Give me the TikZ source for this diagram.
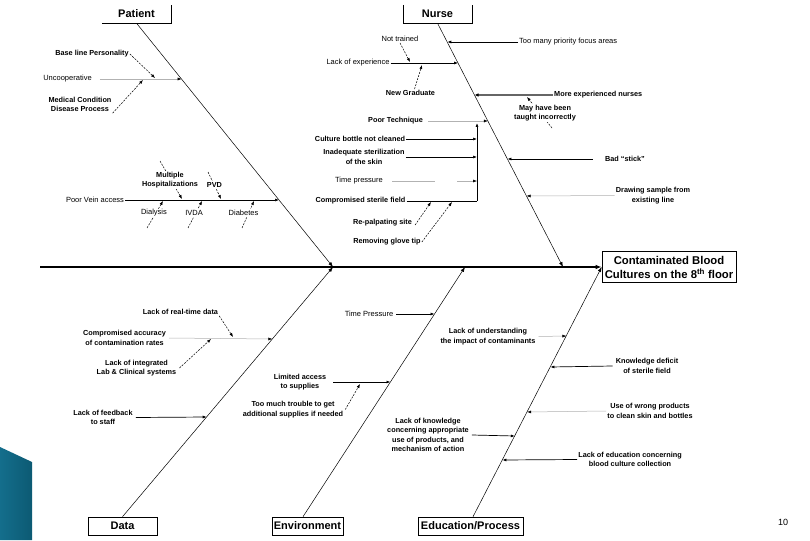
\documentclass[tikz,border=0pt]{standalone}
\usepackage{fontspec}
\setmainfont{Liberation Sans}
\usetikzlibrary{arrows.meta,calc}
\begin{document}
\begin{tikzpicture}[x=1pt,y=-1pt,
  lbl/.style={font=\fontsize{7.3}{9.5}\selectfont\bfseries, align=center, inner sep=1pt},
  lblr/.style={font=\fontsize{7.5}{9.5}\selectfont, align=center, inner sep=1pt},
  wlbl/.style={lbl, fill=white},
  wlblr/.style={lblr, fill=white},
  catbox/.style={font=\fontsize{11}{13}\selectfont\bfseries, minimum height=18pt, inner sep=1pt},
  bone/.style={line width=0.5pt, -{Latex[length=5pt,width=3.5pt]}},
  sa/.style={line width=0.7pt, -{Latex[length=4pt,width=3pt]}},
  la/.style={line width=0.5pt, gray!60, -{Latex[length=4pt,width=3pt,color=black]}},
  da/.style={line width=0.5pt, dash pattern=on 2pt off 1.2pt, -{Latex[length=4pt,width=3pt]}},
]
\path[use as bounding box] (0,0) rectangle (810,540);
\clip (0,0) rectangle (810,540);
\fill[white] (0,0) rectangle (810,540);

% slide decoration
\shade[left color={rgb,255:red,20;green,110;blue,140}, right color={rgb,255:red,12;green,90;blue,115}]
  (0,447) -- (32,462) -- (32,540) -- (0,540) -- cycle;
\node[font=\fontsize{9}{11}\selectfont, inner sep=0pt] (pgnum) at (783,522) {10};

% effect box and spine
\node[draw, line width=0.6pt, font=\fontsize{11.3}{14}\selectfont\bfseries, align=center,
  minimum width=134pt, minimum height=31pt, inner sep=1pt] (effect) at (669,267)
  {Contaminated Blood\\Cultures on the 8\textsuperscript{th} floor};
\coordinate (tail) at (40,267);
\draw[line width=1.2pt, -{Latex[length=6pt,width=4.5pt]}] (tail) -- (effect.west);

% category boxes
\node[catbox, minimum width=69pt] (patient) at (136.5,14) {Patient};
\draw[line width=0.6pt] (patient.south west) -- (patient.south east) -- (patient.north east);
\node[catbox, minimum width=69pt] (nurse) at (437.5,14) {Nurse};
\draw[line width=0.6pt] (nurse.north west) -- (nurse.south west) -- (nurse.south east) -- (nurse.north east);
\node[catbox, draw, line width=0.6pt, minimum width=69pt] (data) at (122.5,526) {Data};
\node[catbox, draw, line width=0.6pt, minimum width=71pt] (env) at (307.5,526) {Environment};
\node[catbox, draw, line width=0.6pt, minimum width=105pt] (edu) at (470.5,526) {Education/Process};

% bone junctions
\coordinate (pj) at (333,267);
\coordinate (nj) at (563,267);
\coordinate (dj) at (333,267);
\coordinate (ej) at (465,267);
\draw[bone] (patient.south) -- (pj);
\draw[bone] (nurse.south) -- (nj);
\draw[bone] (data.north) -- (dj);
\draw[bone] ([xshift=-4.5pt]env.north) -- (ej);
\draw[bone] ([xshift=2.5pt]edu.north) -- (effect.west);

% ---------------- Patient ----------------
\node[lbl] (pbase) at (92,54) {Base line Personality};
\coordinate (pbase-t) at (155,78);
\draw[da] (pbase.east) -- (pbase-t);
\node[lblr] (punc) at (67.5,79) {Uncooperative};
\coordinate (punc-t) at (181.6,79);
\draw[la] ([xshift=7pt]punc.east) -- (punc-t);
\node[lbl] (pmed) at (80,104.5) {Medical Condition\\Disease Process};
\coordinate (pmed-t) at (143,80);
\draw[da] (pmed.south east) -- (pmed-t);

\node[lblr] (pvein) at (95,200) {Poor Vein access};
\coordinate (pvein-t) at (279,200);
\draw[sa] (pvein.east) -- (pvein-t);

\coordinate (pmult-s) at (160,161);
\coordinate (pmult-t) at (182,199);
\draw[da] (pmult-s) -- (pmult-t);
\node[wlbl] (pmult) at (170,180) {Multiple\\Hospitalizations};
\coordinate (ppvd-s) at (208,172);
\coordinate (ppvd-t) at (221,199);
\draw[da] (ppvd-s) -- (ppvd-t);
\node[wlbl] (ppvd) at (214.5,185) {PVD};
\coordinate (pdial-s) at (147,228);
\coordinate (pdial-t) at (163,201);
\draw[da] (pdial-s) -- (pdial-t);
\node[wlblr] (pdial) at (154,213) {Dialysis};
\coordinate (pivda-s) at (188,228);
\coordinate (pivda-t) at (202,201);
\draw[da] (pivda-s) -- (pivda-t);
\node[wlblr] (pivda) at (194,213) {IVDA};
\coordinate (pdiab-s) at (242,228);
\coordinate (pdiab-t) at (254,201);
\draw[da] (pdiab-s) -- (pdiab-t);
\node[wlblr] (pdiab) at (243.5,213) {Diabetes};

% ---------------- Nurse ----------------
\node[lblr] (nnot) at (400,39) {Not trained};
\coordinate (nnot-t) at (410,62);
\draw[da] (nnot.south) -- (nnot-t);
\node[lblr] (nexp) at (358,63) {Lack of experience};
\coordinate (nexp-t) at (458.1,63);
\draw[sa] (nexp.east) -- (nexp-t);
\node[lbl] (nnew) at (410.5,93) {New Graduate};
\coordinate (nnew-t) at (422,65);
\draw[da] ([xshift=4pt]nnew.north) -- (nnew-t);
\node[lblr, anchor=west] (ntoo) at (518,42) {Too many priority focus areas};
\coordinate (ntoo-t) at (447.3,42);
\draw[sa] (ntoo.west) -- (ntoo-t);
\node[lbl, anchor=west] (nmore) at (553,95) {More experienced nurses};
\coordinate (nmore-t) at (474.5,95);
\draw[line width=1.3pt, gray!80!black, -{Latex[length=4pt,width=3.5pt,color=black]}] (nmore.west) -- (nmore-t);
\coordinate (nmay-s) at (552,128);
\coordinate (nmay-t) at (527,97);
\draw[da] (nmay-s) -- (nmay-t);
\node[wlbl] (nmay) at (545,113) {May have been\\taught incorrectly};

\node[lbl] (npoor) at (395.5,121) {Poor Technique};
\coordinate (npoor-t) at (487.9,121);
\draw[la] ([xshift=4pt]npoor.east) -- (npoor-t);
\coordinate (nbr-b) at (477,201);
\coordinate (nbr-t) at (477,123);
\draw[sa] (nbr-b) -- (nbr-t);
\node[lbl] (ncult) at (360,139) {Culture bottle not cleaned};
\coordinate (ncult-t) at (477,139);
\draw[sa] (ncult.east) -- (ncult-t);
\node[lbl] (ninad) at (364,157) {Inadequate sterilization\\of the skin};
\coordinate (ninad-t) at (477,157);
\draw[sa] (ninad.east) -- (ninad-t);
\node[lblr] (ntime) at (359,181) {Time pressure};
\coordinate (ntime-m) at (435,181);
\coordinate (ntime-n) at (457,181);
\coordinate (ntime-t) at (477,181);
\draw[line width=0.5pt, gray!60] ([xshift=8pt]ntime.east) -- (ntime-m);
\draw[la] (ntime-n) -- (ntime-t);
\node[lbl] (ncomp) at (360.5,201) {Compromised sterile field};
\draw[line width=0.7pt] (ncomp.east) -- (nbr-b);
\node[lbl] (nrep) at (382.5,223) {Re-palpating site};
\coordinate (nrep-t) at (431,202);
\draw[da] ([xshift=2pt,yshift=-2pt]nrep.east) -- (nrep-t);
\node[lbl] (nrem) at (387,242) {Removing glove tip};
\coordinate (nrem-t) at (452,202);
\draw[da] (nrem.east) -- (nrem-t);

\node[lbl] (nbad) at (625,159) {Bad \textquotedblleft stick\textquotedblright};
\coordinate (nbad-t) at (507.4,159);
\draw[sa] ([xshift=-11pt]nbad.west) -- (nbad-t);
\node[lbl] (ndraw) at (653,195.5) {Drawing sample from\\existing line};
\coordinate (ndraw-t) at (526.5,196);
\draw[la] (ndraw.west) -- (ndraw-t);

% ---------------- Data ----------------
\node[lbl] (dreal) at (180.5,312) {Lack of real-time data};
\coordinate (dreal-t) at (233,337);
\draw[da] (dreal.south east) -- (dreal-t);
\node[lbl] (dcomp) at (124.5,338) {Compromised accuracy\\of contamination rates};
\coordinate (dcomp-t) at (272.4,339);
\draw[la] ([xshift=2pt]dcomp.east) -- (dcomp-t);
\node[lbl] (dint) at (136.5,368) {Lack of integrated\\Lab \& Clinical systems};
\coordinate (dint-t) at (211,339);
\draw[da] ([xshift=2pt]dint.east) -- (dint-t);
\node[lbl] (dfeed) at (103,417.5) {Lack of feedback\\to staff};
\coordinate (dfeed-t) at (206.7,417);
\draw[sa] ([xshift=2pt]dfeed.east) -- (dfeed-t);

% ---------------- Environment ----------------
\node[lblr] (etime) at (369,314) {Time Pressure};
\coordinate (etime-t) at (434.5,314);
\draw[sa] ([xshift=2pt]etime.east) -- (etime-t);
\node[lbl] (elim) at (300,382) {Limited access\\to supplies};
\coordinate (elim-t) at (390.5,382);
\draw[line width=1pt, -{Latex[length=4pt,width=3pt]}] ([xshift=6pt]elim.east) -- (elim-t);
\node[lbl] (etoo) at (293,409.5) {Too much trouble to get\\additional supplies if needed};
\coordinate (etoo-t) at (360,384);
\draw[da] ([xshift=1pt]etoo.east) -- (etoo-t);

% ---------------- Education/Process ----------------
\node[lbl] (uund) at (488,336.5) {Lack of understanding\\the impact of contaminants};
\coordinate (uund-t) at (566.4,336);
\draw[la] ([xshift=2pt]uund.east) -- (uund-t);
\node[lbl] (ukno) at (647,366) {Knowledge deficit\\of sterile field};
\coordinate (ukno-t) at (550.4,367);
\draw[sa] ([xshift=-2pt]ukno.west) -- (ukno-t);
\node[lbl] (uuse) at (650,411) {Use of wrong products\\to clean skin and bottles};
\coordinate (uuse-t) at (527.2,412);
\draw[la] (uuse.west) -- (uuse-t);
\node[lbl, font=\fontsize{7.3}{9.3}\selectfont\bfseries] (ulkn) at (428,435) {Lack of knowledge\\concerning appropriate\\use of products, and\\mechanism of action};
\coordinate (ulkn-t) at (514.8,436);
\draw[sa] ([xshift=2pt]ulkn.east) -- (ulkn-t);
\node[lbl] (uedu) at (630,459.5) {Lack of education concerning\\blood culture collection};
\coordinate (uedu-t) at (502.4,460);
\draw[sa] (uedu.west) -- (uedu-t);
\end{tikzpicture}
\end{document}
